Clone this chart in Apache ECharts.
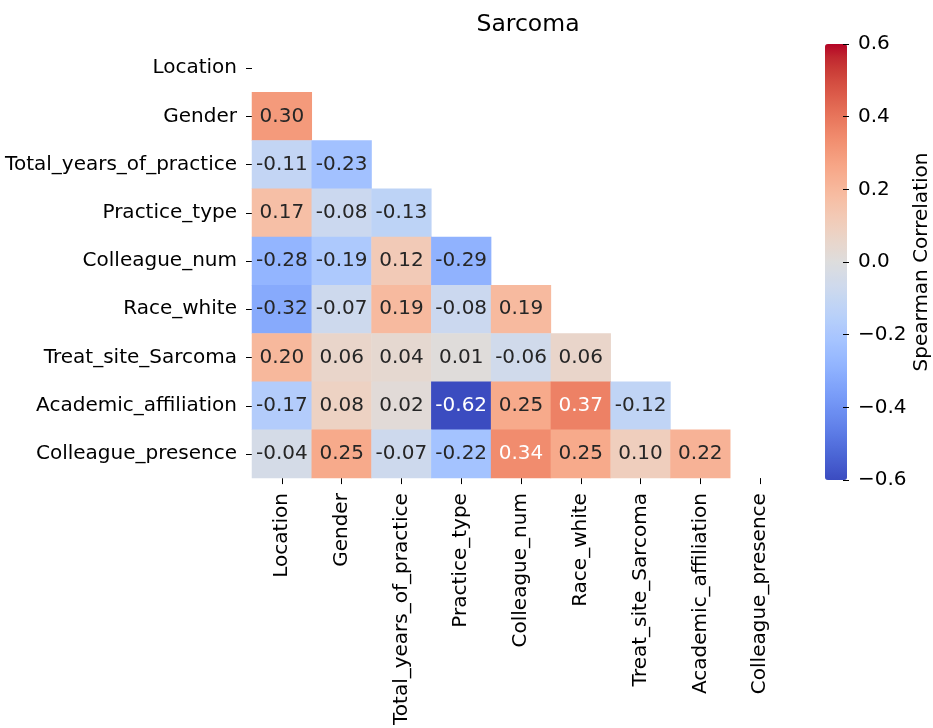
<!DOCTYPE html>
<html><head><meta charset="utf-8">
<script src="https://cdn.jsdelivr.net/npm/echarts@6/dist/echarts.min.js"></script>
<style>html,body{margin:0;padding:0;background:#fff}#c{width:933px;height:728px}</style>
</head><body><div id="c"></div>
<script>
// ---- data ----
const variables = ['Location','Gender','Total_years_of_practice','Practice_type','Colleague_num','Race_white','Treat_site_Sarcoma','Academic_affiliation','Colleague_presence'];
// lower-triangle rows (row index = position in variables), values for columns 0..row-1
const row_Gender = [0.30];
const row_Total_years_of_practice = [-0.11, -0.23];
const row_Practice_type = [0.17, -0.08, -0.13];
const row_Colleague_num = [-0.28, -0.19, 0.12, -0.29];
const row_Race_white = [-0.32, -0.07, 0.19, -0.08, 0.19];
const row_Treat_site_Sarcoma = [0.20, 0.06, 0.04, 0.01, -0.06, 0.06];
const row_Academic_affiliation = [-0.17, 0.08, 0.02, -0.62, 0.25, 0.37, -0.12];
const row_Colleague_presence = [-0.04, 0.25, -0.07, -0.22, 0.34, 0.25, 0.10, 0.22];
const colorbarTicks = [-0.6, -0.4, -0.2, 0.0, 0.2, 0.4, 0.6];
const vmin = -0.6, vmax = 0.6;

// ---- style ----
const COOLWARM = [[59,76,192],[68,90,204],[77,104,215],[87,117,225],[98,130,234],[108,142,241],[119,154,247],[130,165,251],[141,176,254],[152,185,255],[163,194,255],[174,201,253],[184,208,249],[194,213,244],[204,217,238],[213,219,230],[221,221,221],[229,216,209],[236,211,197],[241,204,185],[245,196,173],[247,187,160],[247,177,148],[247,166,135],[244,154,123],[241,141,111],[236,127,99],[229,112,88],[222,96,77],[213,80,66],[203,62,56],[192,40,47],[180,4,38]];
const FONT = 'DejaVu Sans';
const FS = 20;

function cmap(v){
  let t = (v - vmin)/(vmax - vmin); t = Math.max(0, Math.min(1, t));
  const p = t*(COOLWARM.length-1), i = Math.min(Math.floor(p), COOLWARM.length-2), f = p - i;
  return COOLWARM[i].map((c,k)=> c + (COOLWARM[i+1][k]-c)*f);
}
function textColor(v){
  const lin = cmap(v).map(c=>{c/=255; return c<=0.03928? c/12.92 : Math.pow((c+0.055)/1.055,2.4);});
  const L = 0.2126*lin[0]+0.7152*lin[1]+0.0722*lin[2];
  return L > 0.408 ? '#262626' : '#ffffff';
}

const rows = [[], row_Gender, row_Total_years_of_practice, row_Practice_type, row_Colleague_num, row_Race_white, row_Treat_site_Sarcoma, row_Academic_affiliation, row_Colleague_presence];
const data = [];
rows.forEach((r, i) => r.forEach((v, j) => data.push({value:[j, i, v], label:{color:textColor(v)}})));

const chart = echarts.init(document.getElementById('c'), null, {renderer:'canvas'});
chart.setOption({
  animation:false,
  backgroundColor:'#fff',
  textStyle:{fontFamily:FONT},
  title:{text:'Sarcoma', left:523, textAlign:'center', top:8,
    textStyle:{fontFamily:FONT, fontSize:23.5, fontWeight:'normal', color:'#000'}},
  grid:[
    {left:252, top:44, width:538, height:436},
    {left:825, top:44, width:22, height:436}
  ],
  xAxis:[
    {type:'category', data:variables, gridIndex:0,
     axisLine:{show:false}, splitLine:{show:false},
     axisTick:{show:true, alignWithLabel:true, length:6, lineStyle:{color:'#000'}},
     axisLabel:{rotate:90, interval:0, margin:15, fontSize:FS, color:'#000', fontFamily:FONT}},
    {type:'value', gridIndex:1, show:false, min:0, max:1}
  ],
  yAxis:[
    {type:'category', data:variables, gridIndex:0, inverse:true,
     axisLine:{show:false}, splitLine:{show:false},
     axisTick:{show:true, alignWithLabel:true, length:6, lineStyle:{color:'#000'}},
     axisLabel:{interval:0, margin:15, fontSize:FS, color:'#000', fontFamily:FONT}},
    {type:'value', gridIndex:1, min:vmin, max:vmax, interval:0.2, position:'right', z:10,
     axisLine:{show:false, onZero:false}, splitLine:{show:false},
     axisTick:{show:true, length:6, lineStyle:{color:'#000'}},
     axisLabel:{margin:15, fontSize:FS, color:'#000', fontFamily:FONT,
       formatter:v=>{ if(Math.abs(v)<1e-9) return '0.0'; return (v<0?'\u2212':'')+Math.abs(v).toFixed(1);} },
     name:'Spearman Correlation', nameLocation:'middle', nameRotate:90, nameGap:69,
     nameTextStyle:{fontSize:FS, color:'#000', fontFamily:FONT}}
  ],
  visualMap:{type:'continuous', min:vmin, max:vmax, seriesIndex:0, calculable:false, show:true,
    orient:'vertical', left:825, top:44, itemWidth:22, itemHeight:436, padding:0, text:null,
    showLabel:false, hoverLink:false, z:2,
    inRange:{color:COOLWARM.map(c=>'rgb('+c.join(',')+')')}},
  series:[
    {type:'heatmap', xAxisIndex:0, yAxisIndex:0, data:data,
     label:{show:true, fontSize:FS, fontFamily:FONT, formatter:p=>p.value[2].toFixed(2)},
     itemStyle:{borderWidth:0}, emphasis:{disabled:true}},
    {type:'scatter', xAxisIndex:1, yAxisIndex:1, data:[], silent:true}
  ]
});
</script></body></html>
